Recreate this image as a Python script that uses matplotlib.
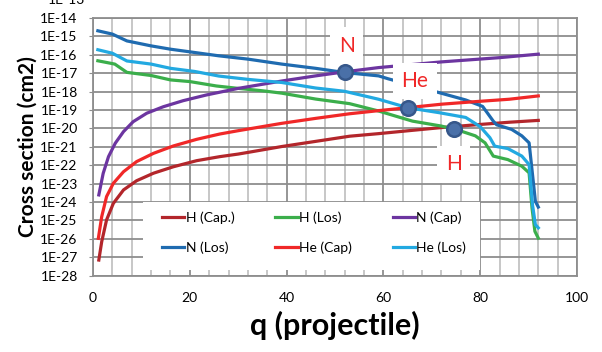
import matplotlib.pyplot as plt
import numpy as np
from matplotlib.patches import Rectangle
from matplotlib.ticker import FixedLocator, FuncFormatter, MultipleLocator

plt.rcParams['font.family'] = ['Lato', 'DejaVu Sans']

# values are log10 of the cross section (cm2)
q_h_cap = [1.2, 1.8, 2.8, 4.2, 6.3, 9, 12.5, 16.6, 21.4, 26.2, 30, 32, 39, 46, 53, 59,
           66, 72, 79, 86, 92]
h_cap = [-27.15, -26.15, -24.97, -24.07, -23.34, -22.84, -22.43, -22.08, -21.75, -21.53,
         -21.39, -21.3, -20.98, -20.7, -20.42, -20.28, -20.1, -19.95, -19.8, -19.66, -19.56]

q_h_los = [1, 4.5, 7, 12, 16, 20, 25.5, 30, 35, 39, 46, 53, 59, 66, 72, 76, 79, 81, 82.7,
           85.7, 88.6, 90.1, 90.7, 91.3, 92]
h_los = [-16.32, -16.5, -16.95, -17.12, -17.36, -17.45, -17.69, -17.82, -17.95, -18.08,
         -18.4, -18.65, -19.05, -19.6, -19.87, -20.14, -20.4, -20.78, -21.5, -21.69,
         -22.05, -22.41, -24.32, -25.59, -25.96]

q_n_cap = [1.2, 2.1, 3.2, 4.6, 6.3, 8.3, 11.1, 14.5, 18.6, 23.4, 30, 39, 46, 52, 59, 72,
           84, 92]
n_cap = [-23.61, -22.44, -21.53, -20.8, -20.17, -19.63, -19.17, -18.82, -18.49, -18.18,
         -17.82, -17.42, -17.14, -16.92, -16.69, -16.38, -16.15, -15.96]

q_n_los = [1, 4, 7, 12, 16, 21, 26, 32, 39, 46, 52, 59, 61, 71.5, 77, 80.5, 82.7, 83.4,
           86.5, 88.6, 90.1, 91.4, 92]
n_los = [-14.69, -14.87, -15.24, -15.51, -15.69, -15.87, -16.05, -16.23, -16.5, -16.73,
         -16.96, -17.14, -17.3, -18.05, -18.45, -18.8, -19.6, -19.8, -20.05, -20.4,
         -20.78, -23.96, -24.27]

q_he_cap = [1.1, 1.8, 2.8, 4.2, 6.3, 9, 12.5, 16.6, 21.4, 26.2, 30, 39, 46, 53, 59, 65,
            72, 79, 86, 92]
he_cap = [-25.97, -24.79, -23.7, -22.98, -22.35, -21.8, -21.35, -20.95, -20.59, -20.3,
          -20.12, -19.72, -19.45, -19.2, -19.03, -18.87, -18.68, -18.54, -18.41, -18.23]

q_he_los = [1, 4, 7, 12, 16, 21, 26, 32, 39, 46, 52, 59, 65, 71.5, 77, 80, 82, 83,
            85.7, 88.6, 90.1, 90.8, 91.4, 92]
he_los = [-15.72, -15.91, -16.33, -16.5, -16.73, -16.9, -17.15, -17.33, -17.5, -17.8,
          -17.98, -18.41, -18.87, -19.14, -19.4, -19.9, -20.5, -20.96, -21.09, -21.5,
          -21.96, -24.14, -25.23, -25.4]

cross_names = ['N', 'He', 'H']
cross_q = [52, 65, 74.5]
cross_val = [-16.93, -18.87, -20.02]
label_q = [52.4, 66.5, 74.5]
label_val = [-15.5, -17.42, -21.94]

series = [
    ('H (Cap.)', q_h_cap, h_cap, '#B3262B'),
    ('N (Los)', q_n_los, n_los, '#1F6BB0'),
    ('H (Los)', q_h_los, h_los, '#3BAE4B'),
    ('He (Cap)', q_he_cap, he_cap, '#F02828'),
    ('N (Cap)', q_n_cap, n_cap, '#6C35A0'),
    ('He (Los)', q_he_los, he_los, '#22A9E1'),
]

fig = plt.figure(figsize=(6.02, 3.52), dpi=100)
ax = fig.add_axes([0.1545, 0.2168, 0.804, 0.7318])

for name, q, v, c in series:
    ax.plot(q, 10.0 ** np.array(v), color=c, lw=2.3, label=name, zorder=3,
            solid_joinstyle='round')

ax.plot(cross_q, 10.0 ** np.array(cross_val), 'o', ms=10.5, mfc='#4A70A8',
        mec='#36578A', mew=1.8, zorder=5)
for name, q, v in zip(cross_names, label_q, label_val):
    ax.text(q, 10.0 ** v, name, color='#F02828', fontsize=15, ha='center', va='center',
            zorder=4, bbox=dict(facecolor='white', edgecolor='none', pad=6))

ax.set_yscale('log')
ax.set_xlim(0, 100)
ax.set_ylim(1e-28, 1e-14)
ax.xaxis.set_major_locator(MultipleLocator(20))
ax.xaxis.set_minor_locator(MultipleLocator(4))
ax.yaxis.set_major_locator(FixedLocator([10.0 ** -k for k in range(14, 29)]))
ax.yaxis.set_minor_locator(FixedLocator([]))
ax.yaxis.set_major_formatter(FuncFormatter(lambda v, p: '1E-%d' % round(-np.log10(v))))
ax.grid(which='major', color='#8E8E8E', lw=1.3)
ax.grid(which='minor', axis='x', color='#C3C3C3', lw=1.3)
ax.set_axisbelow(True)
for s in ax.spines.values():
    s.set_color('#8E8E8E')
    s.set_linewidth(1.3)
ax.tick_params(axis='y', length=3, color='#8E8E8E', labelsize=10, pad=8)
ax.tick_params(axis='x', which='both', length=0, labelsize=10, pad=12)
ax.text(-0.016, 1e-13, '1E-13', transform=ax.get_yaxis_transform(), ha='right',
        va='center', fontsize=10, clip_on=False)

ax.set_xlabel('q (projectile)', fontsize=22, fontweight='bold', labelpad=5)
ax.set_ylabel('Cross section (cm2)', fontsize=15, fontweight='bold', labelpad=2)

# white panel behind the legend
ax.add_patch(Rectangle((0.103, 0.022), 0.696, 0.264, transform=ax.transAxes,
                       facecolor='white', edgecolor='none', zorder=5.5))
leg = ax.legend(loc='upper left', bbox_to_anchor=(0.1426, 0.251), ncol=3, fontsize=10,
                frameon=False, handlelength=1.6, handletextpad=0.1, borderpad=0,
                borderaxespad=0, labelspacing=1.3, columnspacing=2.95)
leg.set_zorder(6)

fig.savefig('out.png', dpi=100)
